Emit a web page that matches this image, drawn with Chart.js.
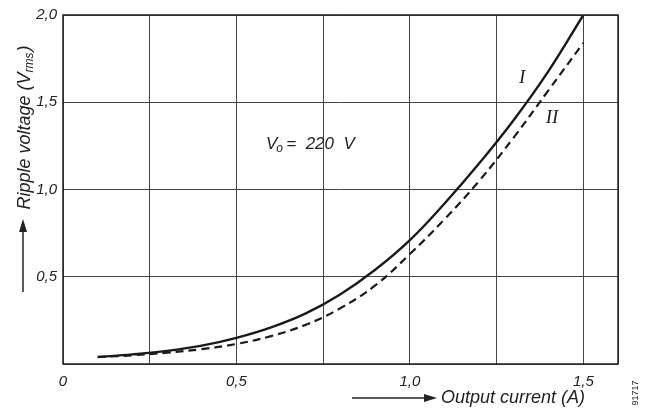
<!DOCTYPE html>
<html>
<head>
<meta charset="utf-8">
<script src="https://cdn.jsdelivr.net/npm/chart.js@4.4.1/dist/chart.umd.min.js"></script>
<style>
  html, body { margin: 0; padding: 0; background: #fff; }
</style>
</head>
<body>
<canvas id="rippleChart" width="651" height="416"></canvas>
<script>
// output current (A)
var currents = [0.1, 0.2, 0.3, 0.4, 0.5, 0.6, 0.7, 0.8, 0.9, 1.0, 1.1, 1.2, 1.3, 1.4, 1.5];
// ripple voltage (Vrms), curve I (solid) and curve II (dashed)
var curveI  = [0.04, 0.055, 0.075, 0.105, 0.15, 0.21, 0.29, 0.40, 0.54, 0.71, 0.92, 1.15, 1.40, 1.68, 2.00];
var curveII = [0.04, 0.05, 0.065, 0.085, 0.115, 0.16, 0.225, 0.32, 0.45, 0.63, 0.83, 1.05, 1.30, 1.57, 1.84];

var xGrid = [0, 0.25, 0.5, 0.75, 1.0, 1.25, 1.5, 1.6];
var xLabelTicks = [0, 0.5, 1.0, 1.5];
var yGrid = [0, 0.5, 1.0, 1.5, 2.0];
var yLabelTicks = [0.5, 1.0, 1.5, 2.0];

var tickFont = { family: 'Liberation Sans', size: 15, style: 'italic' };

function fmt(v) {
    return v === 0 ? '0' : v.toFixed(1).replace('.', ',');
}

function toPoints(ys) {
    return currents.map(function (x, i) { return { x: x, y: ys[i] }; });
}

// frame, axis titles and the text written inside the plot
var notes = {
    id: 'notes',
    afterDraw: function (chart) {
        var ctx = chart.ctx;
        var a = chart.chartArea;
        var xs = chart.scales.x, ys = chart.scales.y;
        ctx.save();
        ctx.strokeStyle = '#222';
        ctx.lineWidth = 1.5;
        ctx.strokeRect(a.left, a.top, a.right - a.left, a.bottom - a.top);

        ctx.fillStyle = '#222';
        ctx.textBaseline = 'middle';

        // y title, rotated
        ctx.save();
        ctx.translate(25, 128);
        ctx.rotate(-Math.PI / 2);
        ctx.font = 'italic 18px "Liberation Sans"';
        var t1 = 'Ripple voltage (V';
        var w1 = ctx.measureText(t1).width;
        ctx.font = 'italic 12px "Liberation Sans"';
        var w2 = ctx.measureText('rms').width;
        ctx.font = 'italic 18px "Liberation Sans"';
        var w3 = ctx.measureText(')').width;
        var sx = -(w1 + w2 + w3) / 2;
        ctx.textAlign = 'left';
        ctx.fillText(t1, sx, 0);
        ctx.font = 'italic 12px "Liberation Sans"';
        ctx.fillText('rms', sx + w1, 5);
        ctx.font = 'italic 18px "Liberation Sans"';
        ctx.fillText(')', sx + w1 + w2 + 1, 0);
        ctx.restore();

        // arrow under y title
        ctx.lineWidth = 1.5;
        ctx.beginPath();
        ctx.moveTo(23, 292);
        ctx.lineTo(23, 228);
        ctx.stroke();
        ctx.beginPath();
        ctx.moveTo(23, 219);
        ctx.lineTo(19, 232);
        ctx.lineTo(27, 232);
        ctx.closePath();
        ctx.fill();

        // x title with arrow
        ctx.beginPath();
        ctx.moveTo(352, 398);
        ctx.lineTo(428, 398);
        ctx.stroke();
        ctx.beginPath();
        ctx.moveTo(437, 398);
        ctx.lineTo(424, 394);
        ctx.lineTo(424, 402);
        ctx.closePath();
        ctx.fill();
        ctx.font = 'italic 18px "Liberation Sans"';
        ctx.textAlign = 'left';
        ctx.fillText('Output current (A)', 441, 398);

        // figure number
        ctx.save();
        ctx.translate(636, 393);
        ctx.rotate(-Math.PI / 2);
        ctx.font = '9px "Liberation Sans"';
        ctx.textAlign = 'center';
        ctx.fillText('91717', 0, 0);
        ctx.restore();

        // curve labels
        ctx.font = 'italic 19px "Liberation Serif"';
        ctx.textAlign = 'center';
        ctx.fillText('I', xs.getPixelForValue(1.324), ys.getPixelForValue(1.64));
        ctx.fillText('II', xs.getPixelForValue(1.41), ys.getPixelForValue(1.41));

        // V0 = 220 V
        var vx = xs.getPixelForValue(0.585), vy = ys.getPixelForValue(1.26);
        ctx.textAlign = 'left';
        ctx.font = 'italic 17px "Liberation Sans"';
        ctx.fillText('V', vx, vy);
        var vw = ctx.measureText('V').width;
        ctx.font = 'italic 12px "Liberation Sans"';
        ctx.fillText('o', vx + vw - 1, vy + 5);
        ctx.font = 'italic 17px "Liberation Sans"';
        ctx.fillText('=  220  V', vx + vw + 9, vy);
        ctx.restore();
    }
};

var ctx = document.getElementById('rippleChart');
var rippleChart = new Chart(ctx, {
    type: 'line',
    data: {
        datasets: [{
            label: 'I',
            data: toPoints(curveI),
            borderColor: '#1a1a1a',
            borderWidth: 2.4,
            pointRadius: 0,
            tension: 0.4,
            fill: false
        }, {
            label: 'II',
            data: toPoints(curveII),
            borderColor: '#1a1a1a',
            borderWidth: 2.2,
            borderDash: [8, 5],
            pointRadius: 0,
            tension: 0.4,
            fill: false
        }]
    },
    options: {
        responsive: false,
        animation: false,
        layout: { padding: { left: 0, top: 14, right: 33, bottom: 0 } },
        plugins: {
            legend: { display: false },
            tooltip: { enabled: false }
        },
        scales: {
            x: {
                type: 'linear',
                min: 0,
                max: 1.6,
                afterBuildTicks: function (scale) {
                    scale.ticks = xGrid.map(function (v) { return { value: v }; });
                },
                afterFit: function (scale) { scale.height = 52; },
                grid: { color: '#444', lineWidth: 1, drawTicks: false },
                border: { display: false },
                ticks: {
                    font: tickFont,
                    color: '#222',
                    padding: 9,
                    maxRotation: 0,
                    autoSkip: false,
                    callback: function (v) {
                        return xLabelTicks.indexOf(v) >= 0 ? fmt(v) : '';
                    }
                }
            },
            y: {
                min: 0,
                max: 2,
                afterBuildTicks: function (scale) {
                    scale.ticks = yGrid.map(function (v) { return { value: v }; });
                },
                afterFit: function (scale) { scale.width = 63; },
                grid: { color: '#444', lineWidth: 1, drawTicks: false },
                border: { display: false },
                ticks: {
                    font: tickFont,
                    color: '#222',
                    padding: 6,
                    autoSkip: false,
                    callback: function (v) {
                        return yLabelTicks.indexOf(v) >= 0 ? fmt(v) : '';
                    }
                }
            }
        }
    },
    plugins: [notes]
});
</script>
</body>
</html>
